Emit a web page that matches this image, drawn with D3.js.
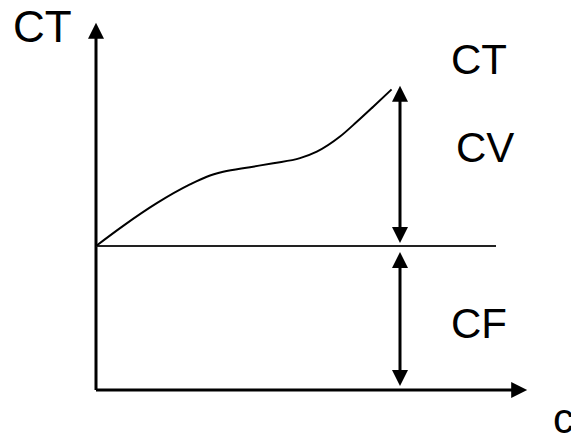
<!DOCTYPE html>
<html>
<head>
<meta charset="utf-8">
<script src="https://cdn.jsdelivr.net/npm/d3@7"></script>
<style>
  body { margin: 0; background: #fff; }
  text { font-family: "Liberation Sans", Arial, sans-serif; fill: #000; }
</style>
</head>
<body>
<div id="chart"></div>
<script>
// total cost curve (CT) against quantity
const qVals  = [0, 6.8, 15.2, 23.5, 27.7, 31.8, 38.5, 44.3, 51, 55.2, 61, 65.2, 69.3, 73.9];
const ctVals = [40, 45.6, 51.9, 57.1, 59.25, 60.6, 61.9, 63, 64.4, 66.2, 70.4, 74.5, 78.7, 83.5];
const fixedCost = 40;      // CF level
const markQ = 76;          // where CV / CF are measured
const cvTop = 84.5;
const xAxisMax = 107.8;
const yAxisMax = 102;
const cfLineEnd = 100;

const width = 571, height = 443;

const x = d3.scaleLinear().domain([0, 100]).range([96, 496]);
const y = d3.scaleLinear().domain([0, 100]).range([390, 30]);

const svg = d3.select('#chart').append('svg')
  .attr('width', width)
  .attr('height', height);

const head = 16, halfW = 8, gap = 3;

// draws a shaft with a filled triangle at the requested ends
function arrow(x1, y1, x2, y2, ends, sw) {
  const dx = x2 - x1, dy = y2 - y1;
  const len = Math.hypot(dx, dy);
  const ux = dx / len, uy = dy / len;
  const sx = ends.start ? x1 + ux * (head - 1) : x1;
  const sy = ends.start ? y1 + uy * (head - 1) : y1;
  const ex = ends.end ? x2 - ux * (head - 1) : x2;
  const ey = ends.end ? y2 - uy * (head - 1) : y2;
  svg.append('line')
    .attr('x1', sx).attr('y1', sy).attr('x2', ex).attr('y2', ey)
    .attr('stroke', '#000').attr('stroke-width', sw);
  const tri = (tx, ty, vx, vy) => {
    const bx = tx - vx * head, by = ty - vy * head;
    const px = -vy * halfW, py = vx * halfW;
    svg.append('path')
      .attr('d', `M${tx},${ty}L${bx + px},${by + py}L${bx - px},${by - py}Z`)
      .attr('fill', '#000');
  };
  if (ends.start) tri(x1, y1, -ux, -uy);
  if (ends.end) tri(x2, y2, ux, uy);
}

// axes
arrow(x(0), y(0), x(0), y(yAxisMax), { end: true }, 3);
arrow(x(0), y(0), x(xAxisMax), y(0), { end: true }, 3);

// CF level line
svg.append('line')
  .attr('x1', x(0)).attr('y1', y(fixedCost))
  .attr('x2', x(cfLineEnd)).attr('y2', y(fixedCost))
  .attr('stroke', '#222').attr('stroke-width', 2);

// CT curve
const pts = qVals.map((q, i) => [x(q), y(ctVals[i])]);
svg.append('path')
  .attr('d', d3.line().curve(d3.curveMonotoneX)(pts))
  .attr('fill', 'none')
  .attr('stroke', '#000')
  .attr('stroke-width', 2);

// CV and CF double arrows
arrow(x(markQ), y(cvTop), x(markQ), y(fixedCost) - gap, { start: true, end: true }, 3);
arrow(x(markQ), y(fixedCost) + 6, x(markQ), y(0) - 4, { start: true, end: true }, 3);

// labels
const labels = [
  { t: 'CT', x: 13, y: 42, s: 44 },
  { t: 'CT', x: 451, y: 74, s: 42 },
  { t: 'CV', x: 456, y: 162, s: 42 },
  { t: 'CF', x: 451, y: 338, s: 42 },
  { t: 'c', x: 553, y: 433, s: 42 }
];
svg.selectAll('text.lbl')
  .data(labels)
  .join('text')
  .attr('class', 'lbl')
  .attr('x', d => d.x)
  .attr('y', d => d.y)
  .style('font-size', d => d.s + 'px')
  .text(d => d.t);
</script>
</body>
</html>
